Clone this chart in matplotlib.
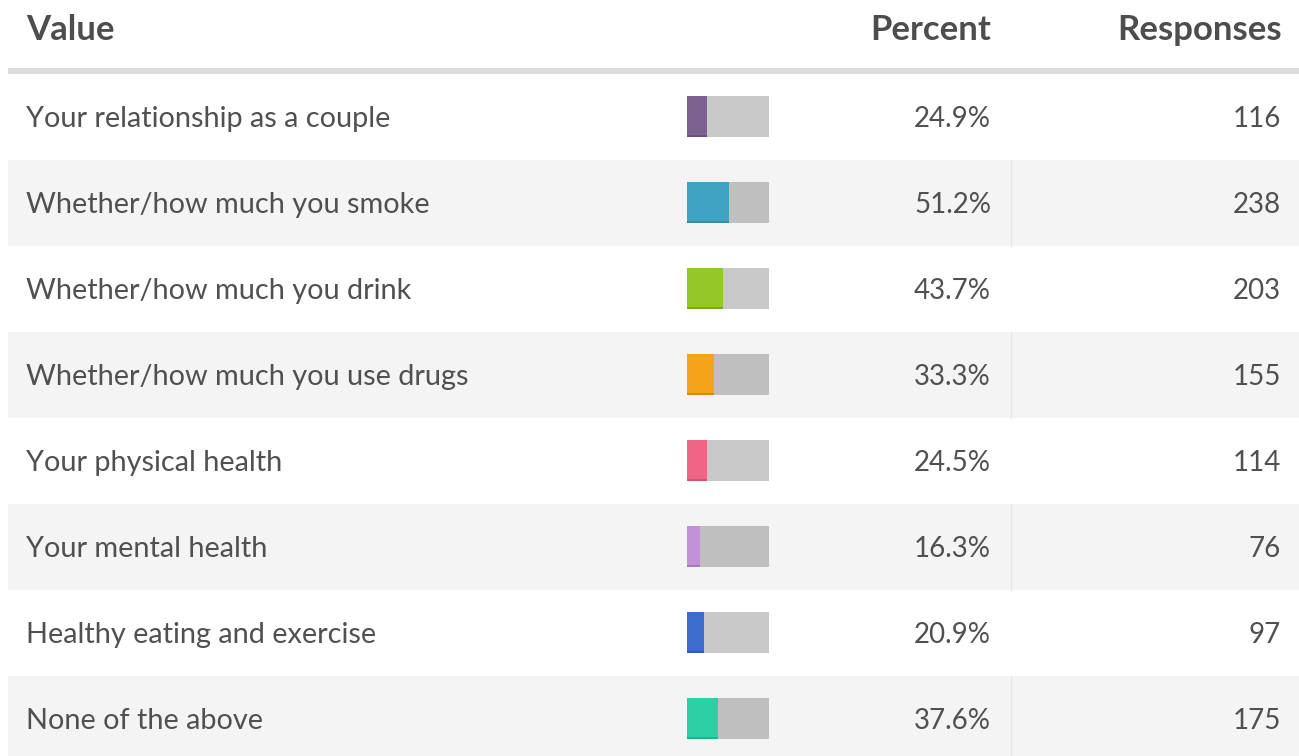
import matplotlib.pyplot as plt
from matplotlib.colors import to_rgb

plt.rcParams['font.family'] = ['Lato', 'DejaVu Sans']

labels = [
    "Your relationship as a couple",
    "Whether/how much you smoke",
    "Whether/how much you drink",
    "Whether/how much you use drugs",
    "Your physical health",
    "Your mental health",
    "Healthy eating and exercise",
    "None of the above",
]
percents = [24.9, 51.2, 43.7, 33.3, 24.5, 16.3, 20.9, 37.6]
responses = [116, 238, 203, 155, 114, 76, 97, 175]
colors = ["#7c6090", "#41a3c3", "#94c826", "#f5a31a",
          "#f06586", "#c291d8", "#3c6ccc", "#2cd0a5"]
headers = ["Value", "Percent", "Responses"]

W, H = 1299, 756
fig = plt.figure(figsize=(W / 100, H / 100), dpi=100)
ax = fig.add_axes([0, 0, 1, 1])
ax.set_xlim(0, W)
ax.set_ylim(H, 0)
ax.axis('off')

text_col = "#505050"
row_top = 73.5
row_h = 86
bar_x, bar_w, bar_h = 687, 82, 41

# header (baseline at y=40)
hdr = dict(fontsize=25, fontweight='bold', color="#4d4d4d", va='baseline')
ax.text(26, 40, headers[0], ha='left', **hdr)
ax.text(991, 40, headers[1], ha='right', **hdr)
ax.text(1282, 40, headers[2], ha='right', **hdr)
ax.axhspan(68, 73.5, xmin=8 / W, xmax=1, color="#dcdcdc", lw=0)

for i, (lab, pct, n, c) in enumerate(zip(labels, percents, responses, colors)):
    top = row_top + i * row_h
    yc = top + row_h / 2
    shaded = i % 2 == 1
    if shaded:
        ax.axhspan(top, top + row_h, xmin=8 / W, xmax=1, color="#f4f4f4", lw=0)
        ax.plot([1011.5, 1011.5], [top, top + row_h], color="#e6e6e6", lw=1)
    back = "#bfbfbf" if shaded else "#c8c8c8"
    ax.barh(yc, bar_w, left=bar_x, height=bar_h, color=back, lw=0)
    fill = pct / 100 * bar_w
    ax.barh(yc, fill, left=bar_x, height=bar_h, color=c, lw=0)
    dark = tuple(v * 0.85 for v in to_rgb(c))
    ax.barh(yc + bar_h / 2 - 1.2, fill, left=bar_x, height=2.4, color=dark, lw=0)

    base = yc + 10.5
    ax.text(26, base, lab, fontsize=20.8, color=text_col, ha='left', va='baseline')
    ax.text(991, base, f"{pct:.1f}%", fontsize=20, color=text_col,
            ha='right', va='baseline')
    ax.text(1281, base, str(n), fontsize=20, color=text_col,
            ha='right', va='baseline')

fig.savefig("out.png", dpi=100)
